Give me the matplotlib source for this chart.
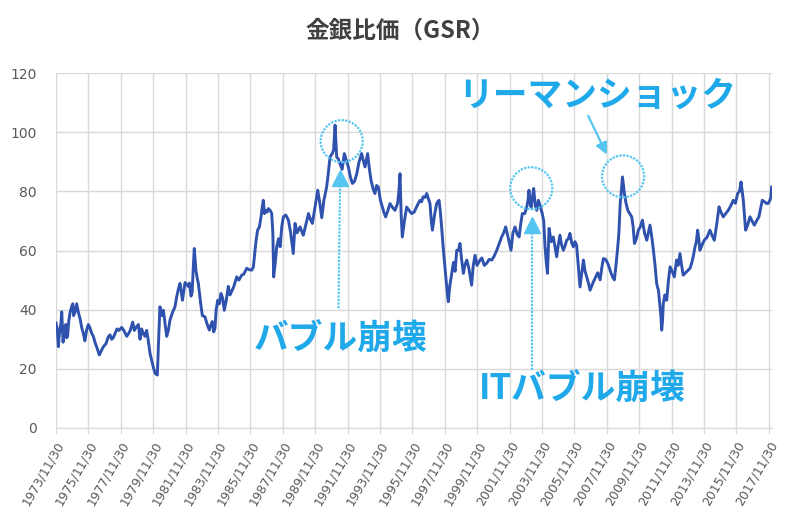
import numpy as np
import matplotlib
matplotlib.use("Agg")
import matplotlib.pyplot as plt
from matplotlib.patches import Ellipse

plt.rcParams['font.family'] = ['Noto Sans CJK JP', 'DejaVu Sans']

# 金銀比価 (decimal year, ratio)
years = [
    1973.92, 1974.00, 1974.06, 1974.15, 1974.27, 1974.35, 1974.45, 1974.57, 1974.70, 1974.88,
    1975.00, 1975.19, 1975.30, 1975.40, 1975.60, 1975.70, 1975.91, 1976.12, 1976.32, 1976.59,
    1976.70, 1976.84, 1977.14, 1977.35, 1977.56, 1977.80, 1977.97, 1978.10, 1978.28, 1978.50,
    1978.65, 1978.85, 1979.00, 1979.10, 1979.30, 1979.51, 1979.60, 1979.72, 1979.90, 1980.03,
    1980.17, 1980.25, 1980.33, 1980.45, 1980.54, 1980.65, 1980.75, 1980.95, 1981.10, 1981.26,
    1981.47, 1981.57, 1981.72, 1981.88, 1982.08, 1982.25, 1982.39, 1982.45, 1982.55, 1982.70,
    1982.87, 1983.11, 1983.38, 1983.56, 1983.73, 1983.90, 1984.10, 1984.30, 1984.55, 1984.76,
    1985.07, 1985.38, 1985.69, 1986.00, 1986.20, 1986.36, 1986.57, 1986.71, 1986.86, 1987.02,
    1987.23, 1987.35, 1987.54, 1987.75, 1987.95, 1988.26, 1988.56, 1988.67, 1988.98, 1989.18,
    1989.50, 1989.74, 1990.07, 1990.32, 1990.62, 1990.83, 1990.97, 1991.14, 1991.24, 1991.44,
    1991.71, 1991.96, 1992.21, 1992.48, 1992.78, 1992.99, 1993.15, 1993.36, 1993.60, 1993.81,
    1994.06, 1994.26, 1994.53, 1994.84, 1995.15, 1995.29, 1995.56, 1995.87, 1996.17, 1996.39,
    1996.58, 1996.80, 1997.00, 1997.15, 1997.41, 1997.56, 1997.72, 1997.88, 1998.03, 1998.13,
    1998.34, 1998.65, 1998.85, 1999.06, 1999.27, 1999.57, 1999.78, 2000.09, 2000.50, 2000.81,
    2001.12, 2001.42, 2001.67, 2002.00, 2002.25, 2002.50, 2002.70, 2002.97, 2003.11, 2003.24,
    2003.40, 2003.59, 2003.69, 2003.93, 2004.10, 2004.25, 2004.35, 2004.61, 2004.82, 2005.02,
    2005.23, 2005.44, 2005.64, 2005.85, 2006.05, 2006.26, 2006.47, 2006.67, 2006.88, 2007.19,
    2007.50, 2007.70, 2007.97, 2008.18, 2008.38, 2008.59, 2008.74, 2008.88, 2009.00, 2009.21,
    2009.45, 2009.62, 2009.86, 2010.11, 2010.38, 2010.58, 2010.79, 2010.99, 2011.10, 2011.20,
    2011.30, 2011.40, 2011.61, 2011.82, 2012.08, 2012.22, 2012.43, 2012.63, 2012.94, 2013.15,
    2013.36, 2013.52, 2013.66, 2013.93, 2014.28, 2014.55, 2014.84, 2015.10, 2015.41, 2015.72,
    2015.99, 2016.20, 2016.34, 2016.48, 2016.75, 2017.02, 2017.30, 2017.51, 2017.78, 2017.98,
    2018.09,
]
gsr = [
    35.5, 33.0, 27.5, 33.0, 39.3, 29.0, 34.0, 30.5, 36.0, 41.0,
    38.0, 42.0, 39.0, 37.0, 32.0, 29.5, 35.0, 32.0, 29.0, 24.7,
    26.0, 27.5, 30.8, 30.0, 32.0, 33.0, 34.0, 33.0, 31.0, 33.0,
    35.8, 34.0, 35.0, 30.0, 32.0, 33.0, 30.0, 25.2, 21.0, 18.5,
    17.9, 30.0, 41.0, 38.0, 39.8, 35.0, 31.0, 36.5, 39.0, 41.0,
    47.0, 48.9, 43.2, 49.2, 47.9, 44.6, 54.5, 60.7, 53.4, 48.9,
    41.0, 37.6, 33.1, 36.0, 33.8, 43.2, 45.5, 39.8, 47.9, 46.2,
    51.1, 51.7, 54.0, 53.4, 60.1, 66.9, 71.4, 77.0, 73.6, 74.2,
    72.5, 51.1, 61.3, 61.3, 71.4, 70.3, 59.0, 69.2, 68.0, 65.2,
    72.5, 69.2, 80.4, 71.1, 81.5, 91.7, 92.8, 102.4, 91.7, 89.4,
    92.8, 88.3, 82.7, 86.0, 92.8, 88.3, 92.8, 83.8, 79.3, 81.5,
    74.7, 71.4, 75.9, 73.6, 86.0, 64.6, 74.7, 72.5, 74.7, 77.0,
    78.2, 79.3, 75.9, 66.9, 75.9, 77.0, 67.8, 56.8, 47.7, 42.7,
    52.3, 60.1, 62.4, 52.3, 56.8, 48.3, 58.4, 56.8, 55.7, 56.8,
    60.1, 64.6, 68.0, 60.1, 68.0, 64.6, 72.5, 74.7, 80.4, 74.7,
    81.0, 73.6, 77.0, 72.5, 61.3, 52.3, 67.5, 64.6, 57.9, 65.2,
    60.1, 63.5, 65.8, 61.3, 61.8, 47.7, 56.8, 51.2, 46.6, 50.6,
    50.1, 57.3, 55.7, 52.3, 50.1, 61.3, 75.9, 84.9, 79.3, 73.6,
    71.4, 62.4, 66.9, 70.3, 63.5, 68.6, 60.1, 48.9, 46.6, 41.0,
    33.1, 42.1, 43.2, 54.5, 51.1, 56.8, 59.0, 51.7, 53.4, 55.7,
    61.3, 66.9, 60.1, 63.5, 66.9, 63.5, 74.8, 71.4, 73.6, 77.0,
    79.3, 83.2, 77.0, 66.9, 71.4, 68.6, 71.4, 77.0, 75.9, 77.0,
    81.5,
]

# in-between wiggles
extra_years = [
    1974.10, 1974.22, 1974.40, 1974.52, 1974.63, 1974.78, 1974.95, 1975.08, 1975.50, 1975.80,
    1976.00, 1976.22, 1976.45, 1977.00, 1977.25, 1977.45, 1977.68, 1978.40, 1978.75, 1979.20,
    1979.40, 1980.60, 1980.85, 1981.35, 1982.15, 1982.32, 1982.62, 1982.95, 1983.25, 1983.45,
    1983.65, 1983.80, 1984.00, 1984.20, 1984.42, 1984.65, 1984.90, 1985.20, 1985.50, 1985.85,
    1986.10, 1986.28, 1986.47, 1986.64, 1986.78, 1986.95, 1987.15, 1987.30, 1987.45, 1987.65,
    1987.85, 1988.10, 1988.40, 1988.80, 1989.08, 1989.35, 1989.62, 1989.88, 1990.20, 1990.45,
    1990.72, 1991.05, 1991.34, 1991.58, 1991.84, 1992.08, 1992.35, 1992.62, 1992.88, 1993.25,
    1993.48, 1993.70, 1993.94, 1994.15, 1994.40, 1994.70, 1995.00, 1995.08, 1995.22, 1995.42,
    1995.72, 1996.02, 1996.28, 1996.48, 1996.70, 1996.90, 1997.08, 1997.28, 1997.48, 1997.64,
    1997.80, 1997.96, 1998.08, 1998.22, 1998.45, 1998.55, 1998.75, 1998.95, 1999.15, 1999.40,
    1999.67, 1999.90, 2000.20, 2000.35, 2000.65, 2000.95, 2001.25, 2001.55, 2001.80, 2002.12,
    2002.38, 2002.60, 2002.85, 2003.05, 2003.18, 2003.32, 2003.50, 2003.80, 2004.02, 2004.18,
    2004.30, 2004.48, 2004.72, 2004.92, 2005.12, 2005.33, 2005.54, 2005.75, 2005.95, 2006.15,
    2006.36, 2006.57, 2006.78, 2007.05, 2007.35, 2007.60, 2007.84, 2008.08, 2008.28, 2008.48,
    2008.66, 2008.81, 2008.94, 2009.10, 2009.33, 2009.54, 2009.74, 2009.98, 2010.24, 2010.48,
    2010.68, 2010.89, 2011.05, 2011.25, 2011.35, 2011.50, 2011.72, 2011.95, 2012.15, 2012.32,
    2012.53, 2012.78, 2013.05, 2013.25, 2013.44, 2013.59, 2013.80, 2014.10, 2014.42, 2014.70,
    2014.96, 2015.25, 2015.55, 2015.85, 2016.10, 2016.27, 2016.41, 2016.60, 2016.88, 2017.15,
    2017.40, 2017.65, 2017.88, 2018.04,
]
extra_gsr = [
    30.5, 35.5, 31.5, 35.0, 31.0, 39.0, 42.0, 39.0, 34.0, 33.0,
    34.0, 31.0, 27.0, 28.5, 31.5, 30.5, 33.5, 32.0, 33.0, 33.5,
    31.0, 37.5, 33.0, 44.0, 49.0, 46.0, 51.0, 38.0, 35.0, 34.5,
    32.5, 40.0, 42.0, 44.0, 43.0, 45.0, 48.0, 50.0, 52.0, 53.5,
    54.5, 64.0, 68.0, 74.5, 72.5, 73.0, 73.5, 66.0, 56.0, 64.0,
    68.0, 72.0, 66.0, 66.0, 66.5, 69.0, 70.5, 74.0, 76.0, 77.0,
    86.0, 94.0, 91.0, 87.5, 90.5, 85.0, 83.5, 90.0, 90.5, 88.0,
    81.0, 82.0, 77.0, 73.0, 73.5, 74.5, 76.0, 80.0, 72.0, 70.0,
    73.5, 73.0, 76.0, 76.5, 78.0, 77.5, 70.0, 72.0, 76.5, 73.0,
    62.0, 52.0, 45.0, 48.0, 56.0, 53.0, 60.0, 57.0, 55.0, 54.0,
    55.0, 55.0, 57.5, 55.0, 57.0, 58.0, 62.0, 66.0, 65.0, 66.0,
    65.5, 69.0, 72.5, 77.0, 76.0, 78.0, 75.0, 75.0, 70.0, 56.0,
    60.0, 63.0, 61.0, 62.0, 62.0, 61.5, 64.0, 62.5, 63.0, 55.0,
    52.0, 53.0, 49.0, 49.0, 52.5, 54.0, 57.0, 54.0, 51.0, 55.0,
    66.0, 80.0, 82.0, 76.0, 72.5, 68.0, 64.0, 68.0, 66.0, 66.0,
    65.0, 55.0, 47.5, 38.0, 36.0, 45.0, 50.0, 53.0, 54.0, 55.0,
    55.0, 52.5, 54.0, 58.0, 63.0, 64.0, 62.0, 64.5, 65.0, 69.0,
    73.0, 72.5, 75.0, 76.0, 80.0, 80.0, 72.0, 68.5, 70.0, 70.0,
    74.0, 76.5, 76.0, 78.0,
]

tick_years = list(range(1973, 2018, 2))
tick_labels = [f"{y}/11/30" for y in tick_years]

all_x = np.array(years + extra_years)
all_y = np.array(gsr + extra_gsr)
order = np.argsort(all_x)

fig = plt.figure(figsize=(8, 5.32), dpi=100)
ax = fig.add_axes([0.07, 0.1955, 0.895, 0.667])

ax.plot(all_x[order], all_y[order], color='#2f52ae', lw=2.1)

ax.set_xlim(1973.915, 2018.11)
ax.set_ylim(0, 120)
ax.set_yticks(range(0, 121, 20))
ax.set_xticks([y + 0.915 for y in tick_years])
ax.set_xticklabels(tick_labels, rotation=60, ha='right', rotation_mode='anchor',
                   family='DejaVu Sans', fontsize=9, color='#595959')
for lab in ax.get_yticklabels():
    lab.set_family('DejaVu Sans')
ax.tick_params(axis='y', length=0, labelsize=10, labelcolor='#595959', pad=14)
ax.tick_params(axis='x', length=4, color='#d9d9d9', pad=4)
ax.grid(True, color='#d9d9d9', lw=1)
ax.set_axisbelow(True)
for s in ['top', 'right', 'left']:
    ax.spines[s].set_visible(False)
ax.spines['bottom'].set_color('#d9d9d9')

fig.text(0.5, 0.943, '金銀比価（GSR）', ha='center', va='center', fontsize=17,
         fontweight='bold', color='#404040')

# annotations
ann = '#1fa9ea'
circ = '#55c6f0'
for cx, cy in [(1991.55, 97.0), (2003.25, 81.1), (2008.92, 85.1)]:
    ax.add_patch(Ellipse((cx, cy), 2.6, 14.2, fill=False, ec=circ, lw=1.6,
                         ls=(0, (1, 0.6)), zorder=4))

# bubble arrow
ax.plot([1991.35, 1991.45], [40.5, 84], color=circ, lw=1.6, ls=(0, (1, 0.6)), zorder=4)
ax.plot([1991.45], [84.5], marker='^', ms=11, color=circ, mec=circ, zorder=5)
# IT bubble arrow
ax.plot([2003.3, 2003.3], [19.6, 68], color=circ, lw=1.6, ls=(0, (1, 0.6)), zorder=4)
ax.plot([2003.3], [68.5], marker='^', ms=11, color=circ, mec=circ, zorder=5)
# lehman arrow
ax.annotate('', xy=(2007.99, 91.6), xytext=(2006.69, 106.4),
            arrowprops=dict(arrowstyle='-|>,head_length=0.7,head_width=0.35', color=circ, lw=1.6),
            zorder=5)

ax.text(2007.35, 112.5, 'リーマンショック', fontsize=25, fontweight='bold', color=ann,
        ha='center', va='center', zorder=6)
ax.text(1991.5, 30.5, 'バブル崩壊', fontsize=25, fontweight='bold', color=ann,
        ha='center', va='center', zorder=6)
ax.text(2006.4, 13.5, 'ITバブル崩壊', fontsize=25, fontweight='bold', color=ann,
        ha='center', va='center', zorder=6)

fig.savefig('out.png', dpi=100)
